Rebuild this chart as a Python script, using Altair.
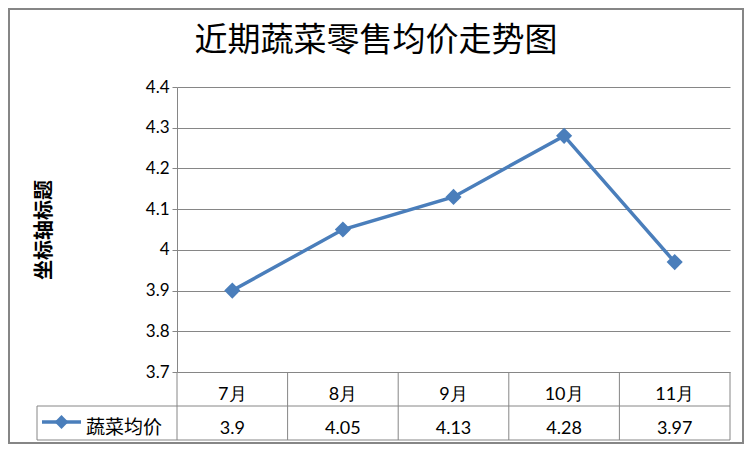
import altair as alt
import pandas as pd

months = ["7月", "8月", "9月", "10月", "11月"]
prices = [3.9, 4.05, 4.13, 4.28, 3.97]
series_name = "蔬菜均价"
title_text = "近期蔬菜零售均价走势图"
y_title = "坐标轴标题"
y_ticks = [3.7, 3.8, 3.9, 4.0, 4.1, 4.2, 4.3, 4.4]

BLUE = "#4A7EBB"
GRID = "#868686"
W, H = 553, 285
NUM_FONT = "Lato"
CJK_FONT = "Noto Sans CJK SC"

df = pd.DataFrame({
    "idx": list(range(1, len(months) + 1)),
    "month": months,
    "price": prices,
    "label": [str(p) for p in prices],
})
bounds = pd.DataFrame({"b": [i + 0.5 for i in range(len(months) + 1)]})
one = pd.DataFrame({"series": [series_name], "title": [title_text]})

yaxis = alt.Axis(
    values=y_ticks, labelExpr="datum.value == 4 ? '4' : format(datum.value, '.1f')",
    title=y_title, grid=True,
    gridColor=GRID, domainColor=GRID, tickColor=GRID, tickSize=5,
    labelFont=NUM_FONT, labelFontSize=17, labelColor="black", labelPadding=3,
    titleFont=CJK_FONT, titleFontSize=20, titleFontWeight="bold",
    titleAngle=270, titleX=-123, titleY=H / 2,
    titleColor="black",
)


def xenc(field):
    return alt.X(field, scale=alt.Scale(domain=[0.5, len(months) + 0.5], zero=False, nice=False), axis=None)


def yenc():
    return alt.Y("price:Q", scale=alt.Scale(domain=[3.7, 4.4], zero=False, nice=False), axis=yaxis)


base = alt.Chart(df)

line = base.mark_line(color=BLUE, strokeWidth=3.5).encode(x=xenc("idx:Q"), y=yenc())
points = base.mark_point(shape="diamond", size=260, filled=True, color=BLUE, opacity=1).encode(
    x=xenc("idx:Q"), y=yenc()
)

header = base.mark_text(font=NUM_FONT, fontSize=18, color="black").encode(
    x=xenc("idx:Q"), y=alt.value(308), text="month:N"
)
values = base.mark_text(font=NUM_FONT, fontSize=18, color="black").encode(
    x=xenc("idx:Q"), y=alt.value(342), text="label:N"
)

vrules = alt.Chart(bounds).mark_rule(color=GRID, strokeWidth=1).encode(
    x=xenc("b:Q"), y=alt.value(285), y2=alt.value(353)
)
h1 = alt.Chart(one).mark_rule(color=GRID, strokeWidth=1).encode(
    x=alt.value(-140), x2=alt.value(W), y=alt.value(319)
)
h2 = alt.Chart(one).mark_rule(color=GRID, strokeWidth=1).encode(
    x=alt.value(-140), x2=alt.value(W), y=alt.value(353)
)
vleft = alt.Chart(one).mark_rule(color=GRID, strokeWidth=1).encode(
    x=alt.value(-140), y=alt.value(319), y2=alt.value(353)
)

leg_line = alt.Chart(one).mark_rule(color=BLUE, strokeWidth=3.5).encode(
    x=alt.value(-135), x2=alt.value(-96), y=alt.value(335)
)
leg_pt = alt.Chart(one).mark_point(shape="diamond", size=190, filled=True, color=BLUE, opacity=1).encode(
    x=alt.value(-115.5), y=alt.value(335)
)
leg_txt = alt.Chart(one).mark_text(font=CJK_FONT, fontSize=19, color="black", align="left").encode(
    x=alt.value(-91), y=alt.value(341), text="series:N"
)

title = alt.Chart(one).mark_text(font=CJK_FONT, fontSize=33, color="black").encode(
    x=alt.value(199), y=alt.value(-46), text="title:N"
)

border = alt.Chart(one).mark_rect(filled=False, stroke=GRID, strokeWidth=2).encode(
    x=alt.value(-168), x2=alt.value(W + 13), y=alt.value(-78), y2=alt.value(H + 71)
)

chart = alt.layer(
    border, vrules, h1, h2, vleft, line, points, header, values, leg_line, leg_pt, leg_txt, title
).properties(width=W, height=H, padding=0).configure_view(stroke=None)

chart.save("out.html", embed_options={"renderer": "svg", "actions": False})
